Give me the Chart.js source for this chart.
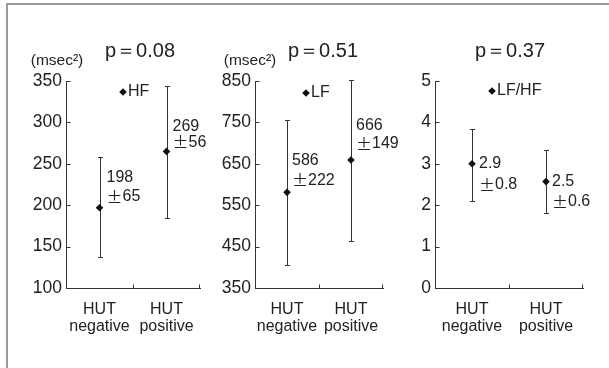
<!DOCTYPE html>
<html><head><meta charset="utf-8">
<script src="https://cdn.jsdelivr.net/npm/chart.js@4/dist/chart.umd.min.js"></script>
<style>
html,body{margin:0;padding:0;background:#fff;}
#wrap{position:relative;width:609px;height:368px;overflow:hidden;background:#fff;}
#frame{position:absolute;left:6px;top:3px;width:640px;height:420px;border-left:2px solid #9a9a9a;border-top:2px solid #9a9a9a;}
canvas{position:absolute;left:0;top:0;}
</style></head>
<body><div id="wrap"><div id="frame"></div>
<canvas id="c0" width="609" height="368"></canvas>
<canvas id="c1" width="609" height="368"></canvas>
<canvas id="c2" width="609" height="368"></canvas>
</div>
<script>
// ---- data ----
const categories = [['HUT', 'negative'], ['HUT', 'positive']];
const pTexts = ['p\uFF1D0.08', 'p\uFF1D0.51', 'p\uFF1D0.37'];
const unitTexts = ['(msec\u00B2)', '(msec\u00B2)', ''];
const legendNames = ['HF', 'LF', 'LF/HF'];

const hfMean = [197, 265];
const hfLow = [137, 184];
const hfHigh = [258, 344];
const hfValueLabels = [['198', '65'], ['269', '56']];
const hfTicks = [100, 150, 200, 250, 300, 350];

const lfMean = [581, 659];
const lfLow = [406, 464];
const lfHigh = [755, 853];
const lfValueLabels = [['586', '222'], ['666', '149']];
const lfTicks = [350, 450, 550, 650, 750, 850];

const ratioMean = [3.0, 2.57];
const ratioLow = [2.1, 1.8];
const ratioHigh = [3.85, 3.33];
const ratioValueLabels = [['2.9', '0.8'], ['2.5', '0.6']];
const ratioTicks = [0, 1, 2, 3, 4, 5];

// ---- styles / layout ----
const FONT = '"Liberation Sans", Arial, Helvetica, sans-serif';
const CJK = '"Noto Sans CJK JP", sans-serif';
const TXT = '#222';
const LINE = '#333';
const YW = 44, XH = 50;

const panels = [
  {id: 'c0', area: {left: 66, right: 200, top: 81, bottom: 288}, mean: hfMean, low: hfLow, high: hfHigh,
   ticks: hfTicks, labels: hfValueLabels, title: pTexts[0], unit: unitTexts[0], legend: legendNames[0],
   labelOff: [[7, -30, -11], [6, -25, -9]], titleX: 140, unitX: 57, legendX: 123, legendY: 92},
  {id: 'c1', area: {left: 255, right: 383, top: 81, bottom: 288}, mean: lfMean, low: lfLow, high: lfHigh,
   ticks: lfTicks, labels: lfValueLabels, title: pTexts[1], unit: unitTexts[1], legend: legendNames[1],
   labelOff: [[5, -32, -12], [5, -34, -16]], titleX: 323, unitX: 250, legendX: 306, legendY: 93},
  {id: 'c2', area: {left: 435, right: 583, top: 81, bottom: 288}, mean: ratioMean, low: ratioLow, high: ratioHigh,
   ticks: ratioTicks, labels: ratioValueLabels, title: pTexts[2], unit: unitTexts[2], legend: legendNames[2],
   labelOff: [[7, 0, 21], [6, 0, 20]], titleX: 510, unitX: 0, legendX: 492, legendY: 91}
];

const annot = {
  id: 'annot',
  beforeDatasetsDraw(chart, args, opts) {
    const p = opts.panel, ctx = chart.ctx, xs = chart.scales.x, ys = chart.scales.y;
    ctx.save();
    ctx.strokeStyle = LINE; ctx.lineWidth = 1;
    p.mean.forEach((m, i) => {
      const px = Math.round(xs.getPixelForValue(i)) + 0.5;
      const yl = Math.round(ys.getPixelForValue(p.low[i])) + 0.5;
      const yh = Math.round(ys.getPixelForValue(p.high[i])) + 0.5;
      ctx.beginPath();
      ctx.moveTo(px, yl); ctx.lineTo(px, yh);
      ctx.moveTo(px - 2.5, yl); ctx.lineTo(px + 2.5, yl);
      ctx.moveTo(px - 2.5, yh); ctx.lineTo(px + 2.5, yh);
      ctx.stroke();
    });
    // inward tick marks
    const L = Math.round(chart.chartArea.left) + 0.5, B = Math.round(chart.chartArea.bottom) + 0.5;
    ctx.beginPath();
    ys.ticks.forEach(t => {
      const py = Math.round(ys.getPixelForValue(t.value)) + 0.5;
      ctx.moveTo(L, py); ctx.lineTo(L + 4, py);
    });
    const mid = Math.round((xs.getPixelForValue(0) + xs.getPixelForValue(1)) / 2) + 0.5;
    const R = Math.round(chart.chartArea.right) - 0.5;
    ctx.moveTo(mid, B); ctx.lineTo(mid, B - 4);
    ctx.moveTo(R, B); ctx.lineTo(R, B - 4);
    ctx.stroke();
    ctx.restore();
  },
  afterDraw(chart, args, opts) {
    const p = opts.panel, ctx = chart.ctx, xs = chart.scales.x, ys = chart.scales.y;
    ctx.save();
    ctx.fillStyle = TXT;
    ctx.textBaseline = 'middle';
    // value labels
    p.labels.forEach((lab, i) => {
      const px = xs.getPixelForValue(i) + p.labelOff[i][0];
      const py = ys.getPixelForValue(p.mean[i]);
      ctx.textAlign = 'left';
      ctx.font = '16px ' + FONT;
      ctx.fillText(lab[0], px, py + p.labelOff[i][1]);
      ctx.font = '16px ' + CJK;
      const pm = '\u00B1';
      ctx.fillText(pm, px, py + p.labelOff[i][2]);
      const w = ctx.measureText(pm).width;
      ctx.font = '16px ' + FONT;
      ctx.fillText(lab[1], px + w, py + p.labelOff[i][2]);
    });
    // title
    ctx.textAlign = 'center';
    ctx.font = '20px ' + FONT;
    ctx.fillText(p.title, p.titleX, 51);
    // unit
    if (p.unit) {
      ctx.font = '15.5px ' + FONT;
      ctx.fillText(p.unit, p.unitX, 61);
    }
    // legend
    ctx.fillStyle = '#111';
    Chart.helpers.drawPoint(ctx, {pointStyle: 'rectRot', radius: 3.8, rotation: 0, borderWidth: 0}, p.legendX, p.legendY);
    ctx.fillStyle = TXT;
    ctx.textAlign = 'left';
    ctx.font = '16px ' + FONT;
    ctx.fillText(p.legend, p.legendX + 5, p.legendY);
    ctx.restore();
  }
};

panels.forEach(p => {
  new Chart(document.getElementById(p.id), {
    type: 'line',
    data: {
      labels: categories,
      datasets: [{
        data: p.mean,
        showLine: false,
        pointStyle: 'rectRot',
        pointRadius: 3.8,
        pointBackgroundColor: '#111',
        pointBorderColor: '#111',
        pointBorderWidth: 0
      }]
    },
    options: {
      responsive: false,
      animation: false,
      events: [],
      layout: {padding: {left: p.area.left - YW, right: 609 - p.area.right, top: p.area.top, bottom: 368 - p.area.bottom - XH}},
      plugins: {legend: {display: false}, tooltip: {enabled: false}, annot: {panel: p}},
      scales: {
        x: {
          type: 'category',
          offset: true,
          grid: {display: false, drawTicks: false},
          border: {display: true, color: LINE, width: 1},
          ticks: {color: TXT, font: {family: FONT, size: 16, lineHeight: 1.05}, padding: 13, maxRotation: 0, autoSkip: false},
          afterFit(s) { s.height = XH; }
        },
        y: {
          min: p.ticks[0],
          max: p.ticks[p.ticks.length - 1],
          afterBuildTicks(s) { s.ticks = p.ticks.map(v => ({value: v})); },
          grid: {display: false, drawTicks: false},
          border: {display: true, color: LINE, width: 1},
          ticks: {color: TXT, font: {family: FONT, size: 17.5}, padding: 4},
          afterFit(s) { s.width = YW; }
        }
      }
    },
    plugins: [annot]
  });
});
</script>
</body></html>
